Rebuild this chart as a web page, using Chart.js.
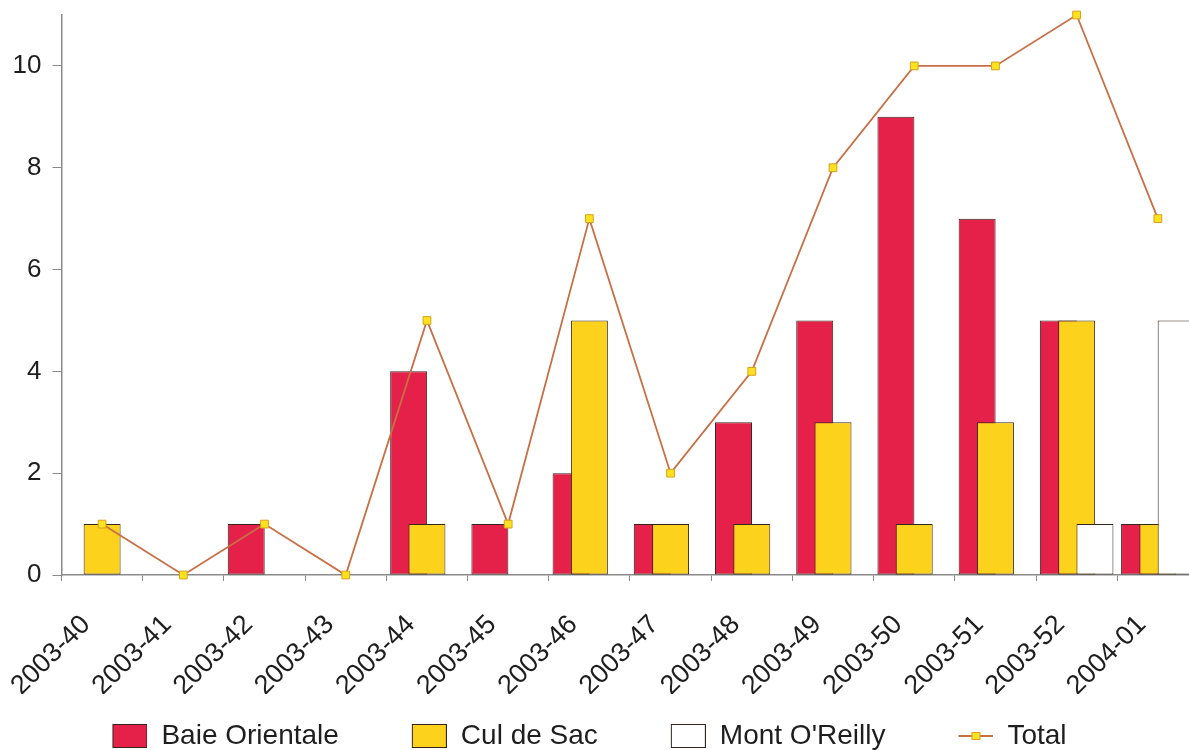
<!DOCTYPE html>
<html>
<head>
<meta charset="utf-8">
<script src="https://cdn.jsdelivr.net/npm/chart.js@4.4.1/dist/chart.umd.min.js"></script>
<style>
  body { margin: 0; background: #fff; overflow: hidden; }
  #page { width: 1189px; height: 750px; overflow: hidden; position: relative; }
  #wrap { position: absolute; left: -75.5px; top: 0; width: 1284px; height: 760px; }
</style>
</head>
<body>
<div id="page"><div id="wrap"><canvas id="cases"></canvas></div></div>
<script>
const weeks = [
  "2003-40", "2003-41", "2003-42", "2003-43", "2003-44", "2003-45", "2003-46",
  "2003-47", "2003-48", "2003-49", "2003-50", "2003-51", "2003-52", "2004-01",
];
const baieOrientale = [0, 0, 1, 0, 4, 1, 2, 1, 3, 5, 9, 7, 5, 1];
const culDeSac = [1, 0, 0, 0, 1, 0, 5, 1, 1, 3, 1, 3, 5, 1];
const montOReilly = [0, 0, 0, 0, 0, 0, 0, 0, 0, 0, 0, 0, 1, 5];
const total = [1, 0, 1, 0, 5, 1, 7, 2, 4, 8, 10, 10, 11, 7];
const yTicks = [0, 2, 4, 6, 8, 10];

const red = "#e5214a";
const yellow = "#fdd21c";
const edge = "#35261d";
const lineColor = "#c96f44";
const font = "'Liberation Sans', Arial, sans-serif";

// legend pictures, with blank room on the left to space the items out
const iconW = 80;
function boxIcon(fill) {
  const c = document.createElement("canvas");
  c.width = iconW;
  c.height = 24;
  const g = c.getContext("2d");
  g.fillStyle = fill;
  g.fillRect(iconW - 34.5, 0.5, 34, 23);
  g.strokeStyle = edge;
  g.lineWidth = 1;
  g.strokeRect(iconW - 34.5, 0.5, 34, 23);
  return c;
}
function lineIcon() {
  const c = document.createElement("canvas");
  c.width = iconW;
  c.height = 24;
  const g = c.getContext("2d");
  const x0 = iconW - 35;
  g.strokeStyle = lineColor;
  g.lineWidth = 2;
  g.beginPath();
  g.moveTo(x0, 12);
  g.lineTo(iconW, 12);
  g.stroke();
  g.fillStyle = "#ffe21e";
  g.fillRect(x0 + 13, 8, 9, 8);
  g.strokeStyle = "#d9a020";
  g.lineWidth = 1;
  g.strokeRect(x0 + 13.5, 8.5, 8, 7);
  return c;
}
const legendIcons = [boxIcon(red), boxIcon(yellow), boxIcon("#fff"), lineIcon()];

// bars: later series over earlier ones, line on top
const drawInOrder = {
  id: "drawInOrder",
  beforeDatasetsDraw(chart) {
    chart.data.datasets.forEach(function (d, i) {
      chart.getDatasetMeta(i).controller.draw();
    });
    return false;
  },
};

function noZero(arr) {
  return arr.map(function (v) { return v === 0 ? null : v; });
}

const barStyle = {
  borderColor: edge,
  borderWidth: 1,
  borderSkipped: false,
  categoryPercentage: 0.676,
  barPercentage: 2.02,
};

new Chart("cases", {
  type: "bar",
  data: {
    labels: weeks,
    datasets: [
      Object.assign({ label: "Baie Orientale", data: noZero(baieOrientale), backgroundColor: red }, barStyle),
      Object.assign({ label: "Cul de Sac", data: noZero(culDeSac), backgroundColor: yellow }, barStyle),
      Object.assign({ label: "Mont O'Reilly", data: noZero(montOReilly), backgroundColor: "#ffffff" }, barStyle),
      {
        type: "line",
        label: "Total",
        data: total,
        borderColor: lineColor,
        borderWidth: 1.8,
        tension: 0,
        pointStyle: "rect",
        pointRadius: 5.5,
        pointBackgroundColor: "#ffe21e",
        pointBorderColor: "#d9a020",
        pointBorderWidth: 1,
        clip: false,
      },
    ],
  },
  options: {
    responsive: true,
    maintainAspectRatio: false,
    animation: false,
    layout: { padding: { left: 0, top: 15, right: 0, bottom: 0 } },
    scales: {
      x: {
        afterFit: function (s) { s.height = 119; },
        grid: { drawOnChartArea: false, tickLength: 6, color: "#8a8a8a" },
        border: { color: "#8a8a8a", width: 1.5 },
        ticks: {
          autoSkip: false,
          maxRotation: 45,
          minRotation: 45,
          padding: 28,
          labelOffset: -16,
          color: "#1e1e1e",
          font: { family: font, size: 27 },
        },
      },
      y: {
        min: 0,
        max: 11,
        afterFit: function (s) {
          s.width = 136.5;
          s.paddingTop = 0;
          s.paddingBottom = 0;
        },
        afterBuildTicks: function (s) {
          s.ticks = yTicks.map(function (v) { return { value: v }; });
        },
        grid: { drawOnChartArea: false, tickLength: 9, color: "#8a8a8a" },
        border: { color: "#8a8a8a", width: 1.5 },
        ticks: {
          padding: 11,
          color: "#1e1e1e",
          font: { family: font, size: 26 },
        },
      },
    },
    plugins: {
      legend: {
        position: "bottom",
        align: "center",
        labels: {
          usePointStyle: true,
          pointStyleWidth: iconW,
          padding: 28,
          color: "#1e1e1e",
          font: { family: font, size: 28 },
          generateLabels: function (chart) {
            const items = Chart.defaults.plugins.legend.labels.generateLabels(chart);
            items.forEach(function (it) { it.pointStyle = legendIcons[it.datasetIndex]; });
            return items;
          },
        },
      },
      tooltip: { enabled: false },
    },
  },
  plugins: [drawInOrder],
});
</script>
</body>
</html>
